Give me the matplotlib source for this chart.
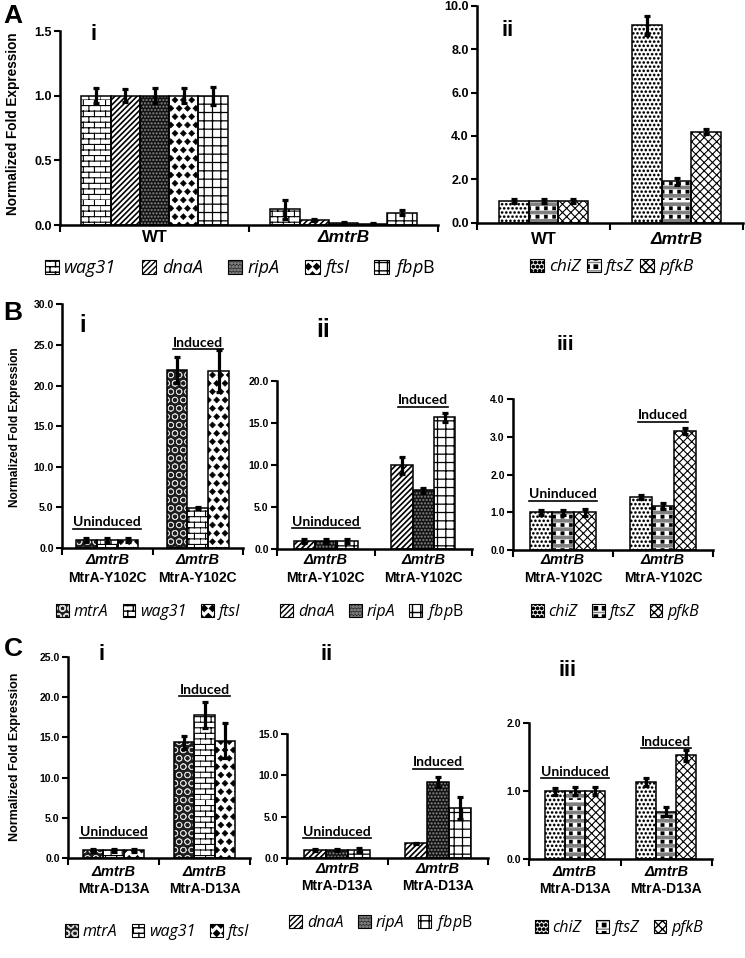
import warnings
warnings.filterwarnings('ignore')
import numpy as np
import matplotlib
matplotlib.use('Agg')
import matplotlib.pyplot as plt
from matplotlib import hatch as mhatch
from matplotlib.path import Path
from matplotlib.patches import Patch
from matplotlib.lines import Line2D
from matplotlib.legend_handler import HandlerTuple
from matplotlib.ticker import FormatStrFormatter
from matplotlib.transforms import blended_transform_factory
from matplotlib.font_manager import FontProperties

# ---------------- data ----------------
genes_Ai = ['wag31', 'dnaA', 'ripA', 'ftsI', 'fbpB']
cats_A = ['WT', 'ΔmtrB']
Ai_values = [[1.00, 1.00, 1.00, 1.00, 1.00],
             [0.12, 0.04, 0.015, 0.01, 0.095]]
Ai_errors = [[0.06, 0.05, 0.06, 0.06, 0.07],
             [0.07, 0.01, 0.008, 0.005, 0.02]]

genes_Aii = ['chiZ', 'ftsZ', 'pfkB']
Aii_values = [[1.00, 1.00, 1.00],
              [9.10, 1.90, 4.20]]
Aii_errors = [[0.09, 0.09, 0.08],
              [0.43, 0.18, 0.13]]

genes_i = ['mtrA', 'wag31', 'ftsI']
genes_ii = ['dnaA', 'ripA', 'fbpB']
genes_iii = ['chiZ', 'ftsZ', 'pfkB']
strain_B = 'MtrA-Y102C'
strain_C = 'MtrA-D13A'

Bi_values = [[1.0, 1.0, 1.0], [21.9, 4.9, 21.8]]
Bi_errors = [[0.25, 0.2, 0.25], [1.6, 0.1, 2.6]]
Bii_values = [[1.0, 1.0, 1.0], [10.0, 7.0, 15.7]]
Bii_errors = [[0.2, 0.2, 0.2], [1.0, 0.3, 0.55]]
Biii_values = [[1.0, 1.0, 1.0], [1.40, 1.17, 3.16]]
Biii_errors = [[0.06, 0.06, 0.09], [0.05, 0.09, 0.09]]

Ci_values = [[1.0, 1.0, 1.0], [14.4, 17.8, 14.6]]
Ci_errors = [[0.2, 0.2, 0.2], [0.8, 1.6, 2.2]]
Cii_values = [[1.0, 1.0, 1.0], [1.8, 9.2, 6.1]]
Cii_errors = [[0.15, 0.15, 0.2], [0.08, 0.6, 1.3]]
Ciii_values = [[1.0, 1.0, 1.0], [1.14, 0.70, 1.53]]
Ciii_errors = [[0.05, 0.06, 0.06], [0.06, 0.07, 0.08]]

# ---------------- custom hatch patterns ----------------
mhatch._validate_hatch_pattern = lambda h: None


class Bricks(mhatch.HatchPatternBase):
    def __init__(self, hatch, density):
        self.n = hatch.count('b') * density
        self.k = self.n // 2
        self.num_vertices = (self.n * 2 + self.n * self.k * 2) if self.n else 0

    def set_vertices_and_codes(self, vertices, codes):
        n, k = self.n, self.k
        v = []
        for i in range(n):
            v += [(0.0, i / n), (1.0, i / n)]
        for i in range(n):
            for j in range(k):
                x = (j + 0.5 * (i % 2)) / k
                v += [(x, i / n), (x, (i + 1) / n)]
        vertices[:] = v
        codes[0::2] = Path.MOVETO
        codes[1::2] = Path.LINETO


class Diamonds(mhatch.Shapes):
    size = 0.36
    filled = True

    def __init__(self, hatch, density):
        self.num_rows = hatch.count('d') * density
        path = Path.unit_regular_polygon(4)
        self.shape_vertices = path.vertices
        self.shape_codes = path.codes
        super().__init__(hatch, density)


class Dots(mhatch.Shapes):
    size = 0.28
    filled = True

    def __init__(self, hatch, density):
        self.num_rows = hatch.count('c') * density
        path = Path.unit_circle()
        self.shape_vertices = path.vertices
        self.shape_codes = path.codes
        super().__init__(hatch, density)


class Squares(mhatch.HatchPatternBase):
    def __init__(self, hatch, density):
        self.n = hatch.count('s') * density
        self.num_vertices = self.n * self.n * 5

    def set_vertices_and_codes(self, vertices, codes):
        n = self.n
        h = 0.2 / n
        v = []
        c = []
        for i in range(n):
            for j in range(n):
                cx, cy = (j + 0.5) / n, i / n
                v += [(cx - h, cy - h), (cx + h, cy - h), (cx + h, cy + h),
                      (cx - h, cy + h), (cx - h, cy - h)]
                c += [Path.MOVETO, Path.LINETO, Path.LINETO, Path.LINETO,
                      Path.CLOSEPOLY]
        vertices[:] = v
        codes[:] = c


mhatch._hatch_types.extend([Bricks, Diamonds, Dots, Squares])

STYLE = {
    'wag31': [dict(fc='white', hc='black', hatch='bbb', hlw=0.8)],
    'dnaA': [dict(fc='white', hc='black', hatch='//////', hlw=1.2)],
    'ripA': [dict(fc='#111111', hc='#7a7a7a', hatch='ccccc', hlw=0.2)],
    'ftsI': [dict(fc='white', hc='black', hatch='dd', hlw=0.4)],
    'fbpB': [dict(fc='white', hc='black', hatch='++', hlw=0.9)],
    'chiZ': [dict(fc='white', hc='black', hatch='cccc', hlw=0.2)],
    'ftsZ': [dict(fc='white', hc='#808080', hatch='--', hlw=2.6),
             dict(fc='none', hc='black', hatch='ss', hlw=0.3)],
    'pfkB': [dict(fc='white', hc='black', hatch='xxxx', hlw=0.8)],
    'mtrA': [dict(fc='#1e1e1e', hc='#d8d8d8', hatch='OO', hlw=0.55)],
}
LABEL = {'fbpB': r'$\mathit{fbp}\mathrm{B}$'}

plt.rcParams['font.family'] = ['Liberation Sans', 'DejaVu Sans']
plt.rcParams['font.weight'] = 'bold'
plt.rcParams['mathtext.fontset'] = 'custom'
plt.rcParams['mathtext.it'] = 'Open Sans:style=italic:weight=normal'
plt.rcParams['mathtext.rm'] = 'Open Sans:style=normal:weight=normal'

W, H = 745, 958
fig = plt.figure(figsize=(W / 100, H / 100), dpi=100)


def fx(x):
    return x / W


def fy(y):
    return 1 - y / H


def set_hlw(p, lw):
    try:
        p.set_hatch_linewidth(lw)
    except Exception:
        pass


def make_ax(x0, x1, ytop, ybot, ymax, step, tick_fs):
    ax = fig.add_axes([fx(x0), fy(ybot), (x1 - x0) / W, (ybot - ytop) / H])
    ax.set_xlim(-0.5, 1.5)
    ax.set_ylim(0, ymax)
    ax.set_yticks(np.arange(0, ymax + step / 2, step))
    ax.yaxis.set_major_formatter(FormatStrFormatter('%.1f'))
    ax.set_xticks([-0.5, 0.5, 1.5])
    ax.set_xticklabels([])
    for s in ['top', 'right']:
        ax.spines[s].set_visible(False)
    for s in ['left', 'bottom']:
        ax.spines[s].set_linewidth(1.8)
    ax.tick_params(axis='y', direction='out', length=4, width=1.5,
                   labelsize=tick_fs, pad=2)
    ax.tick_params(axis='x', direction='out', length=5, width=1.5)
    ax.patch.set_alpha(0)
    return ax


def draw_bars(ax, genes, values, errors, width):
    vals = np.asarray(values, dtype=float)
    errs = np.asarray(errors, dtype=float)
    ncat, ng = vals.shape
    cats = np.arange(ncat)
    for j, g in enumerate(genes):
        x = cats + (j - (ng - 1) / 2) * width
        for layer in STYLE[g]:
            with plt.rc_context({'hatch.linewidth': layer['hlw']}):
                bars = ax.bar(x, vals[:, j], width, color=layer['fc'],
                              edgecolor=layer['hc'], hatch=layer['hatch'],
                              linewidth=0, zorder=2)
                for p in bars:
                    set_hlw(p, layer['hlw'])
        ax.bar(x, vals[:, j], width, fill=False, edgecolor='black',
               linewidth=1.1, zorder=3)
        ax.errorbar(x, vals[:, j], yerr=errs[:, j], fmt='none', ecolor='black',
                    elinewidth=2.3, capsize=2.2, capthick=2.3, zorder=4,
                    clip_on=False)


def add_legend(genes, xc, yc, fs, colsp, hl=0.8):
    handles = []
    for g in genes:
        parts = []
        for layer in STYLE[g]:
            with plt.rc_context({'hatch.linewidth': layer['hlw']}):
                p = Patch(facecolor=layer['fc'], edgecolor=layer['hc'],
                          hatch=layer['hatch'], linewidth=0)
                set_hlw(p, layer['hlw'])
            parts.append(p)
        parts.append(Patch(fill=False, edgecolor='black', linewidth=0.8))
        handles.append(tuple(parts))
    labels = [LABEL.get(g, g) for g in genes]
    fig.legend(handles, labels, handler_map={tuple: HandlerTuple(ndivide=1, pad=0)},
               loc='center', bbox_to_anchor=(fx(xc), fy(yc)), ncol=len(genes),
               frameon=False,
               prop=FontProperties(family='Open Sans', style='italic',
                                   weight='normal', size=fs),
               handlelength=hl, handleheight=hl, handletextpad=0.3,
               columnspacing=colsp, borderpad=0, borderaxespad=0)


under_texts = []


def cond_labels(ax, ypos_unind, ypos_ind, fs=10):
    for cat, yy, txt in [(0, ypos_unind, 'Uninduced'), (1, ypos_ind, 'Induced')]:
        t = ax.text(cat, yy, txt, ha='center', va='center', fontsize=fs,
                    fontweight='bold', family='Lato', zorder=5)
        under_texts.append(t)


def cat_labels_two(ax, strain, y1, y2, fs1=10.5, fs2=10):
    tr = blended_transform_factory(ax.transData, fig.transFigure)
    for i in range(2):
        ax.text(i, fy(y1), 'ΔmtrB', transform=tr, ha='center', va='center',
                fontsize=fs1, fontweight='bold', fontstyle='italic')
        ax.text(i, fy(y2), strain, transform=tr, ha='center', va='center',
                fontsize=fs2, fontweight='bold')


# ---------------- Panel A ----------------
axAi = make_ax(60, 438, 31, 225, 1.5, 0.5, 9)
draw_bars(axAi, genes_Ai, Ai_values, Ai_errors, 0.155)
axAii = make_ax(477, 743, 5.7, 222.7, 10, 2, 9)
draw_bars(axAii, genes_Aii, Aii_values, Aii_errors, 0.225)
for ax, yy in [(axAi, 238), (axAii, 240)]:
    tr = blended_transform_factory(ax.transData, fig.transFigure)
    ax.text(0, fy(yy), cats_A[0], transform=tr, ha='center', va='center',
            fontsize=12, fontweight='bold')
    ax.text(1, fy(yy), cats_A[1], transform=tr, ha='center', va='center',
            fontsize=12.5, fontweight='bold', fontstyle='italic')
add_legend(genes_Ai, 240, 268, 13, 1.4)
add_legend(genes_Aii, 612, 267, 12.5, 0.35)

# ---------------- Panel B ----------------
axBi = make_ax(62, 243, 304.5, 548, 30, 5, 7.5)
draw_bars(axBi, genes_i, Bi_values, Bi_errors, 0.23)
axBii = make_ax(277, 472, 381, 549.3, 20, 5, 7.5)
draw_bars(axBii, genes_ii, Bii_values, Bii_errors, 0.22)
axBiii = make_ax(513, 713, 399.3, 550, 4, 1, 7.5)
draw_bars(axBiii, genes_iii, Biii_values, Biii_errors, 0.22)
cond_labels(axBi, 3.2, 25.3)
cond_labels(axBii, 3.3, 17.7)
cond_labels(axBiii, 1.48, 3.58)
for ax in (axBi, axBii, axBiii):
    cat_labels_two(ax, strain_B, 560, 578)
add_legend(genes_i, 148, 612, 11.5, 0.9)
add_legend(genes_ii, 372, 612, 11.5, 0.9)
add_legend(genes_iii, 615, 612, 11.5, 0.9)

# ---------------- Panel C ----------------
axCi = make_ax(68, 250, 656.7, 858.3, 25, 5, 7.5)
draw_bars(axCi, genes_i, Ci_values, Ci_errors, 0.22)
axCii = make_ax(287, 488, 734, 858.3, 15, 5, 7.5)
draw_bars(axCii, genes_ii, Cii_values, Cii_errors, 0.22)
axCiii = make_ax(529, 712, 723.3, 859.3, 2, 1, 7.5)
draw_bars(axCiii, genes_iii, Ciii_values, Ciii_errors, 0.22)
cond_labels(axCi, 3.3, 20.9)
cond_labels(axCii, 3.2, 11.6)
cond_labels(axCiii, 1.29, 1.73)
for ax, (y1, y2) in [(axCi, (872, 889)), (axCii, (869, 886)), (axCiii, (872, 889))]:
    cat_labels_two(ax, strain_C, y1, y2)
add_legend(genes_i, 157, 932, 11.5, 0.9)
add_legend(genes_ii, 381, 923, 11.5, 0.9)
add_legend(genes_iii, 619, 928, 11.5, 0.9)

# ---------------- labels ----------------
for txt, x, y in [('A', 13, 16), ('B', 13, 313), ('C', 13, 649)]:
    fig.text(fx(x), fy(y), txt, fontsize=19, fontweight='bold', ha='center', va='center')
for txt, x, y, fs in [('i', 94, 35, 16), ('ii', 508, 30, 16),
                      ('i', 83, 326, 17), ('ii', 323, 330, 18), ('iii', 565, 344, 15),
                      ('i', 102, 655, 16), ('ii', 327, 655, 16), ('iii', 567, 671, 15.5)]:
    fig.text(fx(x), fy(y), txt, fontsize=fs, fontweight='bold', ha='center', va='center')
for x, y, fs in [(13, 124, 9.8), (15, 427, 8.6), (15, 757, 9.0)]:
    fig.text(fx(x), fy(y), 'Normalized Fold Expression', rotation=90,
             fontsize=fs, fontweight='bold', ha='center', va='center')

# underline the condition labels
fig.canvas.draw()
for t in under_texts:
    bb = t.get_window_extent()
    fig.add_artist(Line2D([bb.x0 / W, bb.x1 / W], [(bb.y0 - 0.5) / H] * 2,
                          transform=fig.transFigure, color='black', lw=1.2))

fig.savefig('out.png', dpi=100)
